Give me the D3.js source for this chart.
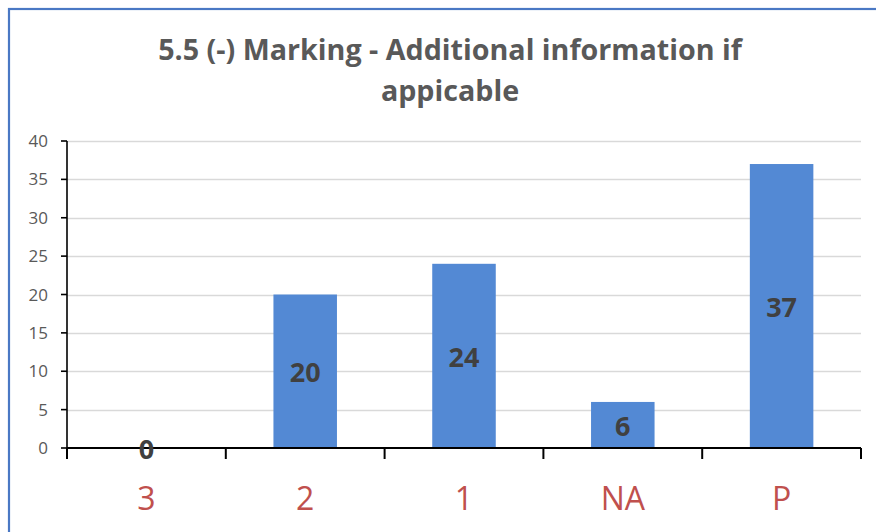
<!DOCTYPE html>
<html><head><meta charset="utf-8">
<script src="https://cdn.jsdelivr.net/npm/d3@7"></script>
<style>html,body{margin:0;padding:0;background:#fff;overflow:hidden}</style>
</head><body>
<svg id="c" width="876" height="532"></svg>
<script>
const categories = ["3", "2", "1", "NA", "P"];
const values = [0, 20, 24, 6, 37];
const yTicks = [0, 5, 10, 15, 20, 25, 30, 35, 40];
const titleLines = ["5.5 (-) Marking - Additional information if", "appicable"];

const svg = d3.select("#c");
const plotLeft = 67, plotRight = 861, plotTop = 141, plotBottom = 448;

// frame
svg.append("rect").attr("x", 9).attr("y", 9).attr("width", 900).attr("height", 600)
  .attr("fill", "#fff").attr("stroke", "#4a78c4").attr("stroke-width", 2.2);

const y = d3.scaleLinear().domain([0, 40]).range([plotBottom, plotTop]);
const x = d3.scaleBand().domain(categories).range([plotLeft, plotRight]).paddingInner(0.6).paddingOuter(0.3);
const step = x.step();

// gridlines
svg.append("g").selectAll("line").data(yTicks.filter(d => d > 0)).join("line")
  .attr("x1", plotLeft).attr("x2", plotRight)
  .attr("y1", d => Math.round(y(d)) + 0.5).attr("y2", d => Math.round(y(d)) + 0.5)
  .attr("stroke", "#d9d9d9").attr("stroke-width", 1.6);

// bars
svg.append("g").selectAll("rect").data(values).join("rect")
  .attr("x", (d, i) => x(categories[i]))
  .attr("width", x.bandwidth())
  .attr("y", d => y(d))
  .attr("height", d => y(0) - y(d))
  .attr("fill", "#5389d4");

// y axis
const ya = svg.append("g").attr("stroke", "#000");
ya.append("line").attr("x1", plotLeft).attr("x2", plotLeft).attr("y1", y(40)).attr("y2", y(0)).attr("stroke-width", 1.6);
ya.selectAll("line.t").data(yTicks).join("line").attr("class", "t")
  .attr("x1", plotLeft - 6).attr("x2", plotLeft).attr("y1", d => y(d)).attr("y2", d => y(d)).attr("stroke-width", 1.6);
svg.append("g").selectAll("text").data(yTicks).join("text")
  .attr("x", 48).attr("y", d => y(d)).attr("dy", "0.36em")
  .attr("text-anchor", "end").attr("font-family", "Open Sans").attr("font-size", 17)
  .attr("fill", "#595959").text(d => d);

// x axis
const bounds = categories.map(c => x(c) - step * x.paddingInner() / 2);
bounds.push(plotRight);
const xa = svg.append("g").attr("stroke", "#000");
xa.append("line").attr("x1", plotLeft).attr("x2", plotRight).attr("y1", y(0)).attr("y2", y(0)).attr("stroke-width", 2);
xa.selectAll("line.t").data(bounds).join("line").attr("class", "t")
  .attr("x1", d => d).attr("x2", d => d).attr("y1", y(0)).attr("y2", y(0) + 11).attr("stroke-width", 2);
svg.append("g").selectAll("text").data(categories).join("text")
  .attr("x", d => x(d) + x.bandwidth() / 2).attr("y", 498).attr("dy", "0.36em")
  .attr("text-anchor", "middle").attr("font-family", "Open Sans").attr("font-size", 32)
  .attr("fill", "#c0504d").text(d => d);

// data labels
svg.append("g").selectAll("text").data(values).join("text")
  .attr("x", (d, i) => x(categories[i]) + x.bandwidth() / 2)
  .attr("y", d => (y(d) + y(0)) / 2 + 1).attr("dy", "0.36em")
  .attr("text-anchor", "middle").attr("font-family", "Open Sans").attr("font-weight", "bold")
  .attr("font-size", 27).attr("fill", "#404040").text(d => d);

// title
const tt = svg.append("g").selectAll("text").data(titleLines).join("text")
  .attr("x", 450).attr("y", (d, i) => 50 + i * 41).attr("dy", "0.36em")
  .attr("text-anchor", "middle").attr("font-family", "Open Sans").attr("font-weight", "bold")
  .attr("font-size", 28).attr("fill", "#595959").text(d => d);
const w0 = tt.node().getComputedTextLength();
tt.attr("font-size", 28 * 584 / w0);
</script>
</body></html>
